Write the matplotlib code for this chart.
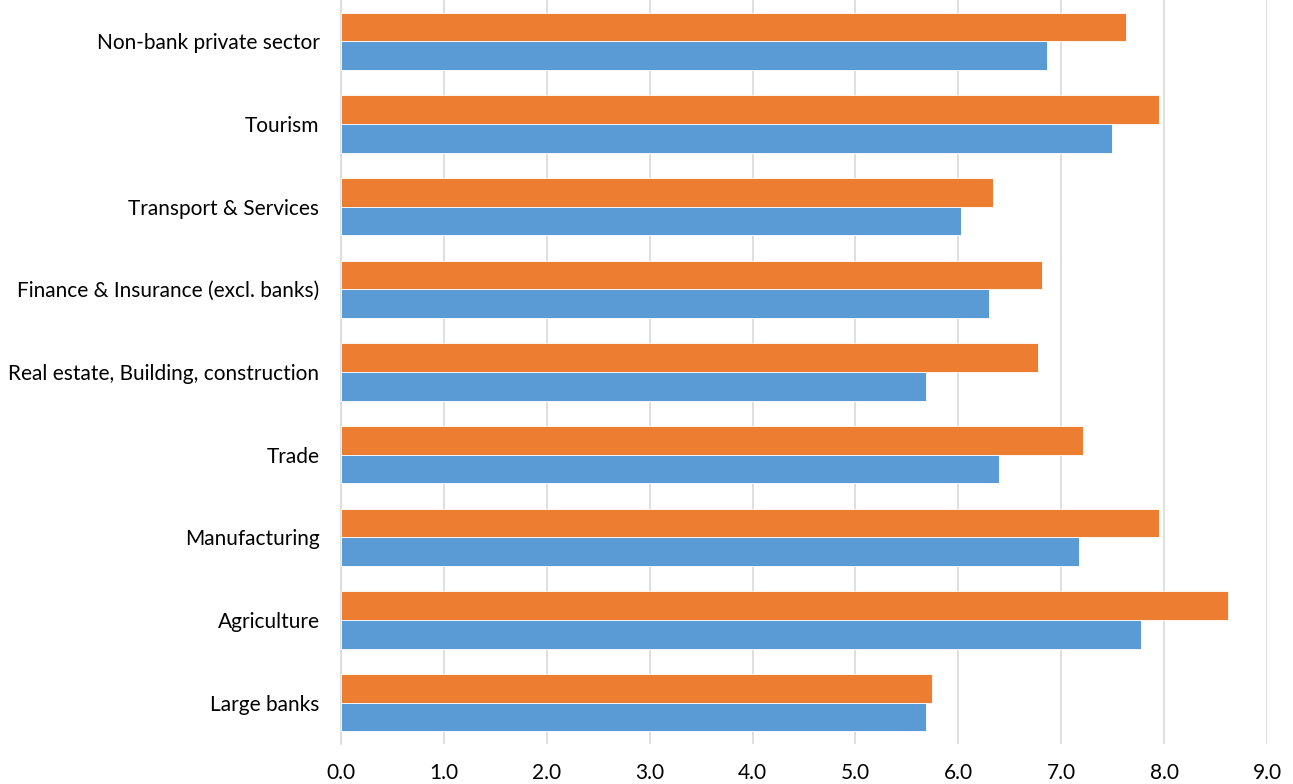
import matplotlib
matplotlib.use("Agg")
import numpy as np
from matplotlib import pyplot as plt

# sectors, listed bottom to top
sectors = ["Large banks", "Agriculture", "Manufacturing", "Trade",
           "Real estate, Building, construction",
           "Finance & Insurance (excl. banks)", "Transport & Services",
           "Tourism", "Non-bank private sector"]
series_orange = [5.74, 8.62, 7.95, 7.21, 6.77, 6.81, 6.34, 7.95, 7.63]
series_blue = [5.69, 7.78, 7.17, 6.40, 5.69, 6.30, 6.03, 7.49, 6.86]
xticks = [0, 1, 2, 3, 4, 5, 6, 7, 8, 9]

plt.rcParams['font.family'] = ['Lato', 'DejaVu Sans']

fig = plt.figure(figsize=(12.93, 7.84), dpi=100)
ax = fig.add_axes([341 / 1293, 40 / 784, 926 / 1293, 744 / 784])

y = np.arange(len(sectors))
h = 0.345
ax.barh(y + h / 2, series_orange, height=h, color="#ed7d31",
        edgecolor="white", linewidth=0.6, zorder=3)
ax.barh(y - h / 2, series_blue, height=h, color="#5b9bd5",
        edgecolor="white", linewidth=0.6, zorder=3)

ax.set_xlim(0, 9)
ax.set_ylim(-0.5, len(sectors) - 0.5)
ax.set_xticks(xticks)
ax.set_xticklabels([f"{v:.1f}" for v in xticks])
ax.set_yticks(y)
ax.set_yticklabels(sectors)
ax.tick_params(axis="both", length=0, labelsize=15, colors="#000000")
ax.tick_params(axis="x", pad=14)
ax.tick_params(axis="y", pad=15.5)

ax.grid(axis="x", color="#d9d9d9", linewidth=1.2, zorder=0)
for side in ["top", "right", "bottom"]:
    ax.spines[side].set_visible(False)
ax.spines["left"].set_color("#d9d9d9")
ax.spines["left"].set_linewidth(1.2)

fig.savefig("out.png", dpi=100)
